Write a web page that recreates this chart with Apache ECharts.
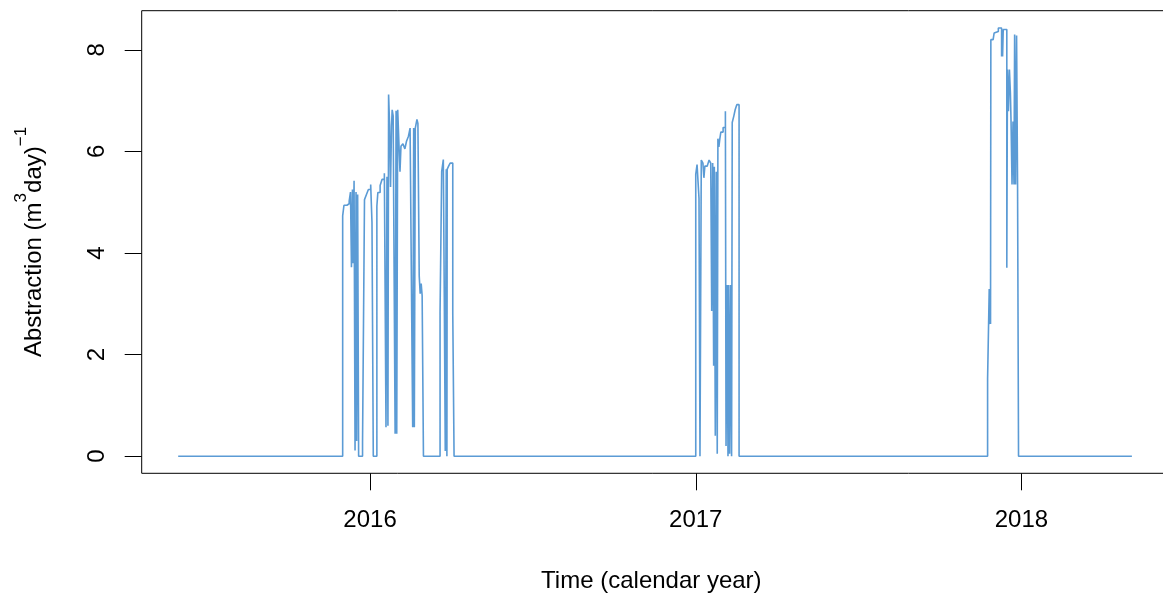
<!DOCTYPE html>
<html><head><meta charset="utf-8">
<script src="https://cdn.jsdelivr.net/npm/echarts@6/dist/echarts.min.js"></script>
<style>html,body{margin:0;padding:0;background:#fff}#c{width:1163px;height:597px}</style>
</head><body><div id="c"></div>
<script>
const yearTicks = [2016, 2017, 2018];
const yTicks = [0, 2, 4, 6, 8];

// [decimal year, abstraction] change points (value holds until next point)
const season2015_16 = [
  [2015.411, 0],
  [2015.916, 4.73], [2015.920, 4.94], [2015.929, 4.97], [2015.936, 5.02],
  [2015.940, 5.20], [2015.943, 3.72], [2015.946, 5.25], [2015.948, 3.80], [2015.951, 5.42],
  [2015.954, 0.11], [2015.957, 5.20], [2015.959, 0.30], [2015.962, 5.15], [2015.965, 0],
  [2015.977, 0.28], [2015.983, 5.05], [2015.989, 5.15], [2015.995, 5.25], [2016.002, 5.35],
  [2016.006, 4.60], [2016.010, 0],
  [2016.021, 4.92], [2016.024, 5.19], [2016.031, 5.33], [2016.037, 5.45], [2016.044, 5.57],
  [2016.049, 0.57], [2016.052, 5.50], [2016.055, 0.60], [2016.057, 7.12], [2016.060, 6.53],
  [2016.063, 5.30], [2016.066, 6.50], [2016.068, 6.82], [2016.071, 6.70], [2016.077, 0.44],
  [2016.080, 6.80], [2016.082, 0.44], [2016.085, 6.82], [2016.089, 6.10], [2016.092, 5.60],
  [2016.095, 6.10], [2016.101, 6.15], [2016.107, 6.05], [2016.112, 6.20], [2016.118, 6.30],
  [2016.123, 6.46], [2016.128, 2.73], [2016.131, 0.57], [2016.134, 6.46], [2016.136, 0.57],
  [2016.139, 6.46], [2016.144, 6.63], [2016.147, 6.55], [2016.151, 3.55], [2016.154, 3.20],
  [2016.157, 3.40], [2016.160, 3.16], [2016.164, 0],
  [2016.215, 2.83], [2016.220, 5.60], [2016.225, 5.84], [2016.228, 3.13], [2016.231, 0.10],
  [2016.234, 5.65], [2016.236, 0], [2016.237, 5.65], [2016.242, 5.72], [2016.246, 5.77],
  [2016.254, 2.83], [2016.258, 0]
];
const season2016_17 = [
  [2017.000, 5.55], [2017.004, 5.74], [2017.010, 5.07], [2017.013, 0], [2017.017, 5.83],
  [2017.022, 5.77], [2017.025, 5.48], [2017.028, 5.71], [2017.035, 5.74], [2017.041, 5.83],
  [2017.046, 5.77], [2017.049, 2.86], [2017.052, 5.77], [2017.055, 1.78], [2017.057, 5.70],
  [2017.060, 0.40], [2017.063, 5.60], [2017.066, 0.05], [2017.068, 6.25], [2017.071, 6.09],
  [2017.074, 6.25], [2017.077, 6.38], [2017.084, 6.47], [2017.091, 6.79], [2017.093, 0.20],
  [2017.096, 3.37], [2017.099, 0], [2017.101, 3.37], [2017.104, 0.05], [2017.107, 3.37],
  [2017.110, 0], [2017.112, 6.57], [2017.117, 6.70], [2017.121, 6.82], [2017.126, 6.92],
  [2017.133, 0]
];
const season2017_18 = [
  [2017.896, 1.52], [2017.901, 3.29], [2017.903, 2.60], [2017.904, 3.29], [2017.905, 2.60],
  [2017.906, 8.20], [2017.913, 8.23], [2017.916, 8.33], [2017.920, 8.30], [2017.922, 8.36],
  [2017.929, 8.43], [2017.939, 7.87], [2017.941, 8.40], [2017.942, 7.87], [2017.944, 8.40],
  [2017.955, 3.71], [2017.957, 7.61], [2017.960, 6.79], [2017.963, 7.61], [2017.966, 7.15],
  [2017.968, 6.59], [2017.971, 5.35], [2017.974, 6.59], [2017.977, 5.35], [2017.979, 8.30],
  [2017.982, 5.35], [2017.985, 8.28], [2017.988, 5.35], [2017.991, 0]
];
const seriesEnd = [[2018.339, 0]];

const data = [].concat(season2015_16, season2016_17, season2017_18, seriesEnd);

const FONT = 'Liberation Sans, Arial, sans-serif';
const chart = echarts.init(document.getElementById('c'), null, {renderer: 'canvas'});
chart.setOption({
  animation: false,
  backgroundColor: '#fff',
  grid: {
    left: 141.7, top: 10.7, right: -7, bottom: 123.7,
    show: true, borderColor: '#000', borderWidth: 1, backgroundColor: 'transparent',
    containLabel: false, outerBoundsMode: 'none'
  },
  xAxis: {
    type: 'value', min: 2015.299, max: 2018.456,
    name: 'Time (calendar year)', nameLocation: 'middle', nameGap: 96,
    nameTextStyle: {fontFamily: FONT, fontSize: 24, color: '#000', padding: [0, 9, 0, 0]},
    axisLine: {show: false, onZero: false}, splitLine: {show: false},
    axisTick: {show: true, inside: false, length: 17, customValues: yearTicks, lineStyle: {color: '#000', width: 1}},
    axisLabel: {customValues: yearTicks, margin: 35, fontFamily: FONT, fontSize: 24, color: '#000',
      formatter: v => String(Math.round(v))}
  },
  yAxis: {
    type: 'value', min: -0.337, max: 8.77,
    name: '{a|Abstraction (m}{s|3}{a|day)}{s|\u22121}', nameLocation: 'middle', nameGap: 95, nameRotate: 90,
    nameTextStyle: {
      color: '#000',
      rich: {
        a: {fontFamily: FONT, fontSize: 24, color: '#000', lineHeight: 34, verticalAlign: 'bottom'},
        s: {fontFamily: FONT, fontSize: 17, color: '#000', lineHeight: 34, verticalAlign: 'top'}
      }
    },
    axisLine: {show: false, onZero: false}, splitLine: {show: false},
    axisTick: {show: true, inside: false, length: 17, customValues: yTicks, lineStyle: {color: '#000', width: 1}},
    axisLabel: {customValues: yTicks, rotate: 90, margin: 32, fontFamily: FONT, fontSize: 24, color: '#000'}
  },
  series: [{
    type: 'line', step: 'end', data: data, showSymbol: false, clip: true,
    lineStyle: {color: '#5B9BD5', width: 1.6}
  }]
});
</script></body></html>
